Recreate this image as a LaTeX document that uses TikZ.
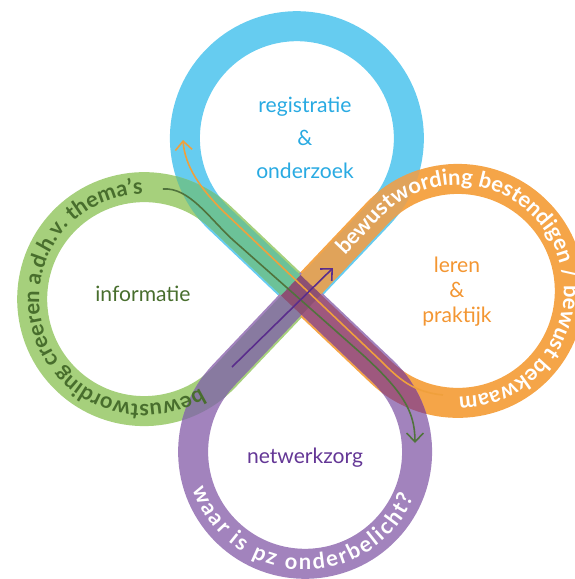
\documentclass[tikz,border=0pt]{standalone}
\usepackage{fontspec}
\setmainfont{Lato}
\usetikzlibrary{calc,arrows.meta,decorations.text}

\definecolor{ringblue}{HTML}{66CCF0}
\definecolor{ringgreen}{HTML}{A6D07C}
\definecolor{ringorange}{HTML}{F5A548}
\definecolor{ringpurple}{HTML}{A283BD}
\definecolor{mixbluegreen}{HTML}{6CC298}
\definecolor{mixblueorange}{HTML}{E0A35A}
\definecolor{mixorangepurple}{HTML}{9E587E}
\definecolor{mixgreenpurple}{HTML}{887AA0}
\definecolor{mixcenter}{HTML}{8C5073}
\definecolor{textblue}{HTML}{29AAE2}
\definecolor{textgreen}{HTML}{486E2D}
\definecolor{textorange}{HTML}{F39632}
\definecolor{textpurple}{HTML}{643796}
\definecolor{arrowgreen}{HTML}{50733C}
\definecolor{arroworange}{HTML}{F0A03C}
\definecolor{arrowpurple}{HTML}{5A2D8C}

\newcommand{\ringfont}{\fontsize{12.5}{14}\selectfont\bfseries}

\begin{document}
\begin{tikzpicture}[x=0.02cm, y=0.02cm,
    band/.style={line width=0.6cm, line join=miter},
    teardrop/.style n args={3}{insert path={($(#1)+({#2}:{#3*1.41421})$) -- ($(#1)+({#2-45}:#3)$) arc[start angle={#2-45}, delta angle=-270, radius=#3] -- cycle}},
    innertext/.style={align=center, font=\fontsize{12}{18.8}\selectfont},
    flow/.style={line width=0.9pt, -{Straight Barb[length=5pt, width=9.5pt]}}]

    \useasboundingbox (-301,-284) rectangle (274,295);
    \clip (-301,-284) rectangle (274,295);

    \begin{scope}[rotate=1.5]
        \coordinate (cb) at (0,156.9);
        \coordinate (cg) at (-156.9,0);
        \coordinate (co) at (156.9,0);
        \coordinate (cp) at (0,-156.9);

        \draw[band, ringblue, teardrop={cb}{270}{112}];
        \draw[band, ringgreen, teardrop={cg}{0}{112}];
        \draw[band, ringorange, teardrop={co}{180}{112}];
        \draw[band, ringpurple, teardrop={cp}{90}{112}];

        \begin{scope}[even odd rule]
            \clip (0,0) -- (0,300) -- (-300,300) -- (-300,0) -- cycle;
            \clip[teardrop={cb}{270}{127}, teardrop={cb}{270}{97}];
            \draw[band, mixbluegreen, teardrop={cg}{0}{112}];
        \end{scope}
        \begin{scope}[even odd rule]
            \clip (0,0) -- (0,300) -- (300,300) -- (300,0) -- cycle;
            \clip[teardrop={cb}{270}{127}, teardrop={cb}{270}{97}];
            \draw[band, mixblueorange, teardrop={co}{180}{112}];
        \end{scope}
        \begin{scope}[even odd rule]
            \clip (0,0) -- (300,0) -- (300,-300) -- (0,-300) -- cycle;
            \clip[teardrop={co}{180}{127}, teardrop={co}{180}{97}];
            \draw[band, mixorangepurple, teardrop={cp}{90}{112}];
        \end{scope}
        \begin{scope}[even odd rule]
            \clip (0,0) -- (-300,0) -- (-300,-300) -- (0,-300) -- cycle;
            \clip[teardrop={cg}{0}{127}, teardrop={cg}{0}{97}];
            \draw[band, mixgreenpurple, teardrop={cp}{90}{112}];
        \end{scope}
        \fill[mixcenter] (-20,0) -- (0,20) -- (20,0) -- (0,-20) -- cycle;

        \path[decorate, decoration={text along path, text align=center, text color=textgreen,
            text={|\ringfont|bewustwording creeren a.d.h.v. thema’s}}]
            ($(cg)+(-40:105)$) arc[start angle=-40, delta angle=-250, radius=105];
        \path[decorate, decoration={text along path, text color=white,
            text={|\ringfont|bewustwording bestendigen / bewust bekwaam}}]
            ($(co)+(135:106)+(225:52)$) -- ($(co)+(135:106)$) arc[start angle=135, delta angle=-260, radius=106];
        \path[decorate, decoration={text along path, text align=fit to path, text color=white,
            text={|\ringfont|waar is pz onderbelicht?}}]
            ($(cp)+(-163:118)$) arc[start angle=-163, delta angle=139, radius=118];
    \end{scope}

    \coordinate (gstart) at (-138,106);
    \coordinate (gend) at (114,-148);
    \draw[flow, arrowgreen] (gstart) .. controls (-112,108) and (-92,77) .. (-68,55) -- (62,-60) .. controls (100,-95) and (114,-115) .. (gend);

    \coordinate (ostart) at (142,-100);
    \coordinate (oend) at (-118,155);
    \draw[flow, arroworange] (ostart) .. controls (112,-97) and (98,-84) .. (80,-66) -- (-78,84) .. controls (-100,106) and (-116,128) .. (oend);

    \coordinate (pstart) at (-69,-72);
    \coordinate (pend) at (32,27);
    \draw[flow, arrowpurple] (pstart) -- (pend);

    \node[innertext, textblue] (regonder) at (4,157) {registratie\\\&\\onderzoek};
    \node[innertext, textgreen] (informatie) at (-158,1) {informatie};
    \node[innertext, textorange, font=\fontsize{12}{14.2}\selectfont] (lerenpraktijk) at (156,3) {leren\\\&\\praktijk};
    \node[innertext, textpurple] (netwerkzorg) at (4,-163) {netwerkzorg};

\end{tikzpicture}
\end{document}
